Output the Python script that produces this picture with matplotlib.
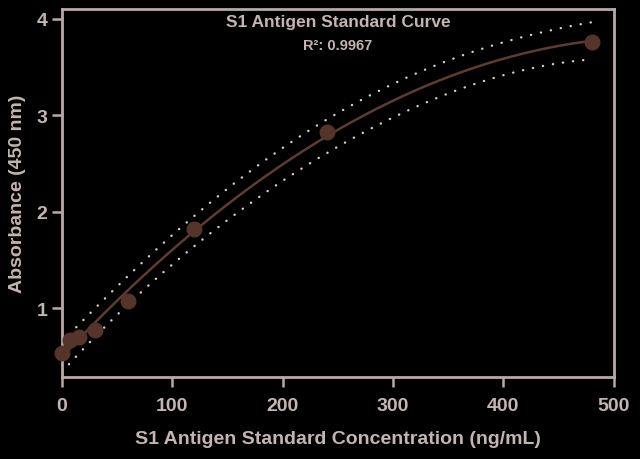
import matplotlib

matplotlib.use("Agg")
import matplotlib.pyplot as plt
import numpy as np

# standards (ng/mL) and measured absorbance at 450 nm
conc = [0, 7.5, 15, 30, 60, 120, 240, 480]
absorbance = [0.53, 0.67, 0.70, 0.77, 1.07, 1.82, 2.83, 3.76]
x_ticks = [0, 100, 200, 300, 400, 500]
y_ticks = [1, 2, 3, 4]
title = "S1 Antigen Standard Curve"
r2_text = "R\u00b2: 0.9967"

FG = "#c4b4b2"
AXIS = "#b9a9a7"
PT = "#553429"
LINE = "#603b30"
DOT = "#d8cfcd"

plt.rcParams["font.family"] = ["Liberation Sans", "DejaVu Sans"]
plt.rcParams["font.weight"] = "bold"

# second-order polynomial fit + prediction band (~85%)
x = np.asarray(conc, dtype=float)
y = np.asarray(absorbance, dtype=float)
X = np.vstack([np.ones_like(x), x, x**2]).T
beta, *_ = np.linalg.lstsq(X, y, rcond=None)
resid = y - X @ beta
dof = len(x) - 3
s2 = resid @ resid / dof
cov = s2 * np.linalg.inv(X.T @ X)
xf = np.linspace(0, 480, 300)
Xf = np.vstack([np.ones_like(xf), xf, xf**2]).T
yf = Xf @ beta
se = np.sqrt(np.einsum("ij,jk,ik->i", Xf, cov, Xf) + s2)
tval = 1.70
upper = yf + tval * se
lower = yf - tval * se

fig = plt.figure(figsize=(6.4, 4.6), dpi=100, facecolor="black")
ax = fig.add_axes([0.097, 0.178, 0.862, 0.800], facecolor="black")

ax.plot(xf, upper, color=DOT, lw=1.7, ls=(0, (0.1, 4.2)), dash_capstyle="round")
ax.plot(xf, lower, color=DOT, lw=1.7, ls=(0, (0.1, 4.2)), dash_capstyle="round")
ax.plot(xf, yf, color=LINE, lw=1.8)
ax.plot(conc, absorbance, "o", color=PT, ms=10.5, mec=PT, clip_on=False, zorder=5)

ax.set_xlim(0, 500)
ax.set_ylim(0.284, 4.1)
ax.set_xticks(x_ticks)
ax.set_yticks(y_ticks)
ax.tick_params(colors=AXIS, labelcolor=FG, length=7, width=1.8, labelsize=14, direction="out")
ax.tick_params(axis="x", pad=7)
for lab in ax.get_xticklabels() + ax.get_yticklabels():
    lab.set_fontweight("bold")
for sp in ax.spines.values():
    sp.set_color(AXIS)
    sp.set_linewidth(2)

ax.set_xlabel("S1 Antigen Standard Concentration (ng/mL)", color=FG, fontsize=14,
              fontweight="bold", labelpad=12)
ax.set_ylabel("Absorbance (450 nm)", color=FG, fontsize=14, fontweight="bold", labelpad=8)

ax.text(0.5, 0.988, title, transform=ax.transAxes, ha="center", va="top",
        color=FG, fontsize=12.5, fontweight="bold")
ax.text(0.5, 0.922, r2_text, transform=ax.transAxes, ha="center", va="top",
        color=FG, fontsize=10.5, fontweight="bold")

fig.savefig("out.png", dpi=100, facecolor="black")
